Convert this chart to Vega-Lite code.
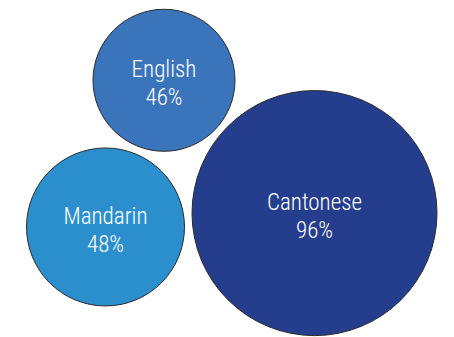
{
  "$schema": "https://vega.github.io/schema/vega-lite/v6.json",
  "width": 454,
  "height": 337,
  "autosize": {"type": "fit", "contains": "padding"},
  "padding": 0,
  "background": "white",
  "config": {"view": {"stroke": null}},
  "data": {
    "values": [
      {"language": "English", "share": 0.46, "x": 164, "y": 81},
      {"language": "Mandarin", "share": 0.48, "x": 105.5, "y": 229},
      {"language": "Cantonese", "share": 0.96, "x": 314.5, "y": 215}
    ]
  },
  "encoding": {
    "x": {"field": "x", "type": "quantitative", "scale": {"domain": [0, 454], "nice": false, "zero": false}, "axis": null},
    "y": {"field": "y", "type": "quantitative", "scale": {"domain": [337, 0], "nice": false, "zero": false}, "axis": null}
  },
  "layer": [
    {
      "mark": {"type": "point", "shape": "circle", "filled": true, "opacity": 1, "stroke": "#2b2b2b", "strokeWidth": 1},
      "encoding": {
        "size": {"field": "language", "type": "nominal", "scale": {"type": "ordinal", "domain": ["English", "Mandarin", "Cantonese"], "range": [20164, 24964, 60025]}, "legend": null},
        "color": {"field": "language", "type": "nominal", "scale": {"domain": ["English", "Mandarin", "Cantonese"], "range": ["#3a74ba", "#2b8fcd", "#243e8d"]}, "legend": null}
      }
    },
    {
      "mark": {"type": "text", "color": "white", "fontSize": 23, "fontWeight": 300, "font": "'Roboto Condensed', 'Noto Sans Condensed', 'Open Sans Condensed', 'DejaVu Sans Condensed', sans-serif", "baseline": "middle", "align": "center", "dy": -10},
      "encoding": {"text": {"field": "language", "type": "nominal"}}
    },
    {
      "mark": {"type": "text", "color": "white", "fontSize": 23, "fontWeight": 300, "font": "'Roboto Condensed', 'Noto Sans Condensed', 'Open Sans Condensed', 'DejaVu Sans Condensed', sans-serif", "baseline": "middle", "align": "center", "dy": 18},
      "encoding": {"text": {"field": "share", "type": "quantitative", "format": ".0%"}}
    }
  ]
}
